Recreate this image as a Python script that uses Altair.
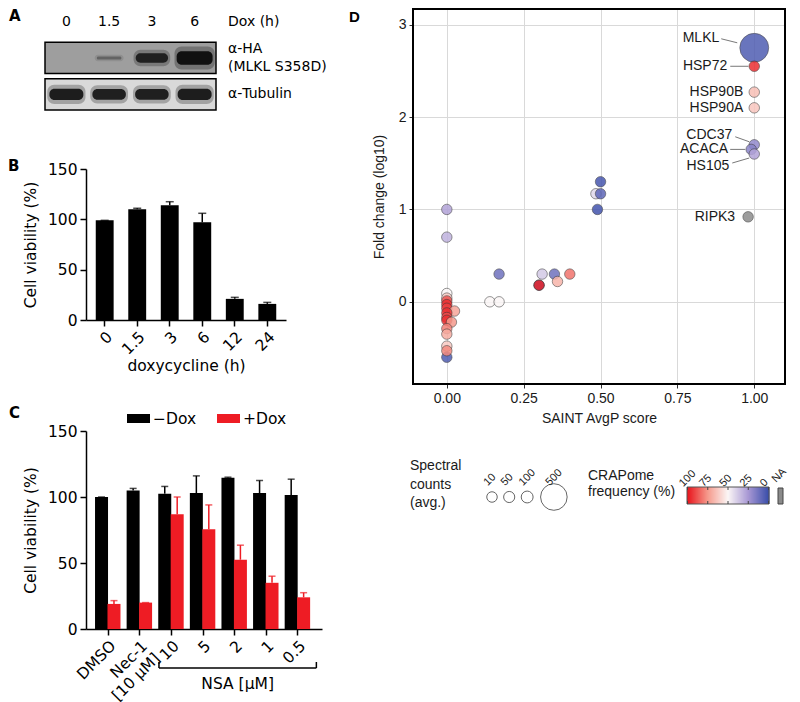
import json
import numpy as np
import pandas as pd
import altair as alt

LEFT_FONT = "DejaVu Sans"
D_FONT = "Liberation Sans"
RED = "#ee1c24"
INK = "#1a1a1a"
LFS = 15.5  # left panels font size

# ---------------- Panel A : western blot ----------------
A_LANES = ["0", "1.5", "3", "6"]
A_ROWS = ["α-HA", "α-Tubulin"]
A_ROW_TEXT = ["α-HA\n(MLKL S358D)", "α-Tubulin"]
A_HA_SIGNAL = [0.0, 0.35, 0.85, 1.0]
A_TUB_SIGNAL = [0.92, 0.9, 0.9, 0.92]
A_TIME_TITLE = "Dox (h)"

# ---------------- Panel B ----------------
B_HOURS = ["0", "1.5", "3", "6", "12", "24"]
B_MEAN = [99, 110, 114, 97, 21, 16]
B_ERR = [0, 1, 3.5, 9, 1.5, 1.5]

# ---------------- Panel C ----------------
C_GROUPS = ["DMSO", "Nec-1\n[10 μM]", "10", "5", "2", "1", "0.5"]
C_CONDS = ["−Dox", "+Dox"]
C_MINUS_MEAN = [100, 105, 102.5, 103, 114.5, 103, 101.5]
C_MINUS_ERR = [0, 1.5, 5.5, 13, 0.5, 9.5, 12]
C_PLUS_MEAN = [19, 20, 87, 75.5, 52.5, 35, 24]
C_PLUS_ERR = [2.5, 0, 13, 18.5, 11, 5, 3.5]
C_NSA = ["10", "0.5"]
C_NSA_TEXT = "NSA [μM]"

# ---------------- Panel D ----------------
D_GENE = [""] * 30 + ["MLKL", "HSP72", "HSP90B", "HSP90A", "CDC37", "ACACA", "HS105", "RIPK3"]
D_SAINT = [0.5, 0.485, 0.5, 0.49, 0.0, 0.0, 0.17, 0.14, 0.17, 0.31, 0.35, 0.40, 0.36, 0.30, 0.30,
           0.0, 0.0, 0.0, 0.0, 0.0, 0.0, 0.025, 0.0, 0.0, 0.0, 0.015, 0.0, 0.0, 0.0, 0.0,
           1.0, 1.0, 1.0, 1.0, 1.0, 0.99, 1.0, 0.98]
D_FC = [1.30, 1.17, 1.17, 1.0, 1.0, 0.70, 0.30, 0.0, 0.0, 0.30, 0.30, 0.30, 0.22, 0.18, 0.18,
        -0.60, 0.09, 0.04, 0.01, -0.03, -0.07, -0.10, -0.12, -0.17, -0.20, -0.22, -0.29, -0.35, -0.48, -0.53,
        2.75, 2.55, 2.27, 2.10, 1.70, 1.65, 1.60, 0.92]
D_CRAP = [3, 42, 8, 2, 28, 32, 12, 50, 50, 38, 12, 82, 68, 2, 97,
          5, 50, 62, 88, 95, 92, 72, 95, 90, 95, 75, 80, 70, 62, 78,
          5, 95, 65, 63, 20, 18, 28, None]
D_COUNTS = [8] * 30 + [590, 14, 10, 10, 10, 10, 10, 10]

# legend content
LEG_COUNTS = [10, 50, 100, 500]
LEG_FREQ = [100, 75, 50, 25, 0]

# annotation layout (text dx, dy, leader offsets)
D_ANNOT = {
    "MLKL": (-35, -10, (-33, -9, -17, -5)),
    "HSP72": (-27, 0, (-24, 0, -6, 0)),
    "HSP90B": (-11, 0, None),
    "HSP90A": (-11, 0, None),
    "CDC37": (-22, -10, (-19, -8, -5, -3)),
    "ACACA": (-23, 0, (-21, 0, -6, 0)),
    "HS105": (-25, 12, (-22, 9, -5, 4)),
    "RIPK3": (-13, 0, None),
}

ONE = pd.DataFrame({"k": [0]})


def letter(ch, x, y, font):
    return alt.Chart(ONE).mark_text(
        text=ch, fontSize=15, fontWeight="bold", font=font, align="left",
        baseline="top", color="black").encode(x=alt.value(x), y=alt.value(y))


AX_LEFT = dict(domainColor="black", domainWidth=1.5, tickColor="black", tickWidth=1.5,
               tickSize=6, labelFontSize=LFS, labelFont=LEFT_FONT, labelColor="black",
               titleFontSize=LFS, titleFont=LEFT_FONT, titleColor="black",
               titleFontWeight="normal", grid=False, labelPadding=3, labelOverlap=False)

# =============== Panel A =================
# plot area starts at the shared left edge of B/C; the blot reaches 41 px further left
A_OVER = 41
A_W = 130
A_TOP = 33
A_BOX_H = 68
A_H = A_TOP + A_BOX_H
lane_px = (A_W + A_OVER) / 4
ax_s = alt.Scale(domain=[-0.5 + A_OVER / lane_px, 3.5])
ay_s = alt.Scale(domain=[0, 2 * A_H / A_BOX_H])
a_rows = pd.DataFrame({"row": A_ROWS, "r": [1, 0], "text": A_ROW_TEXT,
                       "nl": [t.count("\n") for t in A_ROW_TEXT]})
a_bands = pd.DataFrame({
    "row": [A_ROWS[0]] * 4 + [A_ROWS[1]] * 4,
    "r": [1] * 4 + [0] * 4,
    "lane": A_LANES * 2,
    "li": list(range(4)) * 2,
    "signal": A_HA_SIGNAL + A_TUB_SIGNAL,
})
a_lanes = pd.DataFrame({"lane": A_LANES, "li": list(range(4))})

a_bg = alt.Chart(a_rows).transform_calculate(
    x0="-0.5", x1="3.5", y0="datum.r * 1.07", y1="datum.r * 1.07 + 0.92"
).mark_rect(stroke="black", strokeWidth=1.5).encode(
    x=alt.X("x0:Q", scale=ax_s, axis=None), x2="x1:Q",
    y=alt.Y("y0:Q", scale=ay_s, axis=None), y2="y1:Q",
    fill=alt.Fill("row:N", scale=alt.Scale(domain=A_ROWS, range=["#9e9e9e", "#d9d9d9"]), legend=None),
)

band_base = alt.Chart(a_bands).transform_calculate(
    yc="datum.r * 1.07 + 0.46",
    hh="0.04 + 0.16 * pow(datum.signal, 3)",
    hw="0.27 + 0.15 * pow(datum.signal, 2)",
)
a_halo = band_base.transform_calculate(
    x0="datum.li - datum.hw - 0.05", x1="datum.li + datum.hw + 0.05",
    y0="datum.yc - datum.hh * 1.6 - 0.02", y1="datum.yc + datum.hh * 1.6 + 0.02",
    op="datum.signal * 0.3",
).mark_rect(color="#111111", cornerRadius=7).encode(
    x=alt.X("x0:Q", scale=ax_s, axis=None), x2="x1:Q",
    y=alt.Y("y0:Q", scale=ay_s, axis=None), y2="y1:Q",
    opacity=alt.Opacity("op:Q", scale=None),
)
a_core = band_base.transform_calculate(
    x0="datum.li - datum.hw", x1="datum.li + datum.hw",
    y0="datum.yc - datum.hh", y1="datum.yc + datum.hh",
).mark_rect(color="#111111", cornerRadius=5).encode(
    x=alt.X("x0:Q", scale=ax_s, axis=None), x2="x1:Q",
    y=alt.Y("y0:Q", scale=ay_s, axis=None), y2="y1:Q",
    opacity=alt.Opacity("signal:Q", scale=None),
)
a_lane_txt = alt.Chart(a_lanes).mark_text(fontSize=14, baseline="middle", color="black").encode(
    x=alt.X("li:Q", scale=ax_s, axis=None), y=alt.value(A_TOP - 20), text="lane:N")
a_dox = alt.Chart(ONE).mark_text(text=A_TIME_TITLE, fontSize=14, align="left", baseline="middle",
                                 color="black").encode(x=alt.value(A_W + 12), y=alt.value(A_TOP - 20))
a_row_txt = alt.Chart(a_rows).transform_calculate(
    yc="datum.r * 1.07 + 0.46 + datum.nl * 0.27").mark_text(
    align="left", baseline="middle", fontSize=14, lineBreak="\n", lineHeight=18, color="black"
).encode(x=alt.value(A_W + 12), y=alt.Y("yc:Q", scale=ay_s, axis=None), text="text:N")

panel_a = alt.layer(a_bg, a_halo, a_core, a_lane_txt, a_dox, a_row_txt,
                    letter("A", -A_OVER - 36, 0, LEFT_FONT)).properties(width=A_W, height=A_H)

# =============== Panel B =================
B_W, B_H = 200, 151
b_df = pd.DataFrame({"hour": B_HOURS, "mean": B_MEAN, "err": B_ERR})
bx = alt.X("hour:N", sort=B_HOURS, scale=alt.Scale(paddingInner=0.45, paddingOuter=0.3),
           axis=alt.Axis(title="doxycycline (h)", labelAngle=-45, titlePadding=1, **AX_LEFT))
by_s = alt.Scale(domain=[0, 150])
by_ax = alt.Axis(values=[0, 50, 100, 150], title="Cell viability (%)", titlePadding=9, **AX_LEFT)
b_bars = alt.Chart(b_df).mark_bar(color="black").encode(
    x=bx, y=alt.Y("mean:Q", scale=by_s, axis=by_ax))
b_err = alt.Chart(b_df).transform_calculate(hi="datum.mean + datum.err").mark_rule(
    color="black", strokeWidth=1.5).encode(
    x=bx, y=alt.Y("mean:Q", scale=by_s, axis=by_ax), y2="hi:Q")
b_cap = alt.Chart(b_df).transform_calculate(hi="datum.mean + datum.err").mark_tick(
    color="black", thickness=1.5, size=8).encode(
    x=bx, y=alt.Y("hi:Q", scale=by_s, axis=by_ax))
panel_b = alt.layer(b_bars, b_err, b_cap, letter("B", -78, -10, LEFT_FONT)).properties(
    width=B_W, height=B_H)

# =============== Panel C =================
C_W, C_H = 236, 198
C_BAR_W = 13
C_DOM = [-0.53, 6.62]
c_step = C_W / (C_DOM[1] - C_DOM[0])
c_half = (C_BAR_W / 2) / c_step
rows = []
for i, g in enumerate(C_GROUPS):
    rows.append(dict(grp=g, gi=i, cond=C_CONDS[0], side=-1, mean=C_MINUS_MEAN[i], err=C_MINUS_ERR[i]))
    rows.append(dict(grp=g, gi=i, cond=C_CONDS[1], side=1, mean=C_PLUS_MEAN[i], err=C_PLUS_ERR[i]))
c_df = pd.DataFrame(rows)
label_items = [g.split("\n") if "\n" in g else g for g in C_GROUPS]
label_expr = json.dumps(label_items, ensure_ascii=False) + "[datum.value]"
c_xs = alt.Scale(domain=C_DOM)
c_xax = alt.Axis(values=list(range(len(C_GROUPS))), labelExpr=label_expr,
                 labelAngle=-45, title=None, **AX_LEFT)
cx = alt.X("pos:Q", scale=c_xs, axis=c_xax)
cy_ax = alt.Axis(values=[0, 50, 100, 150], title="Cell viability (%)", titlePadding=9, **AX_LEFT)
c_col_s = alt.Scale(domain=C_CONDS, range=["black", RED])
c_base = alt.Chart(c_df).transform_calculate(
    pos=f"datum.gi + datum.side * {c_half}", hi="datum.mean + datum.err")
c_bars = c_base.mark_bar(size=C_BAR_W, orient="vertical").encode(
    x=cx, y=alt.Y("mean:Q", scale=by_s, axis=cy_ax, stack=None),
    color=alt.Color("cond:N", scale=c_col_s, legend=None))
c_err = c_base.mark_rule(strokeWidth=1.5).encode(
    x=cx, y=alt.Y("mean:Q", scale=by_s, axis=cy_ax), y2="hi:Q",
    color=alt.Color("cond:N", scale=c_col_s, legend=None))
c_cap = c_base.mark_tick(thickness=1.5, size=7, orient="horizontal").encode(
    x=cx, y=alt.Y("hi:Q", scale=by_s, axis=cy_ax),
    color=alt.Color("cond:N", scale=c_col_s, legend=None))
# legend keys (drawn as marks, same colour scale)
c_keys = []
for k, cond in enumerate(C_CONDS):
    kd = pd.DataFrame({"cond": [cond]})
    x0 = 41 + 90 * k
    c_keys.append(alt.Chart(kd).mark_rect().encode(
        x=alt.value(x0), x2=alt.value(x0 + 23), y=alt.value(-17), y2=alt.value(-8),
        color=alt.Color("cond:N", scale=c_col_s, legend=None)))
    c_keys.append(alt.Chart(kd).mark_text(align="left", baseline="middle", fontSize=LFS,
                                          color="black").encode(
        x=alt.value(x0 + 26), y=alt.value(-12), text="cond:N"))
i0 = C_GROUPS.index(C_NSA[0]) - 0.38
i1 = C_GROUPS.index(C_NSA[1]) + 0.6
br = pd.DataFrame({"pos": [i0], "b": [i1]})
br_ends = pd.DataFrame({"pos": [i0, i1]})
br_mid = pd.DataFrame({"pos": [(i0 + i1) / 2], "t": [C_NSA_TEXT]})
c_br = alt.Chart(br).mark_rule(color="black", strokeWidth=1.5).encode(
    x=cx, x2="b:Q", y=alt.value(C_H + 39))
c_br_end = alt.Chart(br_ends).mark_rule(color="black", strokeWidth=1.5).encode(
    x=cx, y=alt.value(C_H + 33), y2=alt.value(C_H + 39))
c_br_txt = alt.Chart(br_mid).mark_text(fontSize=LFS, baseline="middle", color="black").encode(
    x=cx, y=alt.value(C_H + 55), text="t:N")
panel_c = alt.layer(c_bars, c_err, c_cap, c_br, c_br_end, c_br_txt, *c_keys,
                    letter("C", -77, -25, LEFT_FONT)).properties(width=C_W, height=C_H)

# =============== Panel D =================
D_W, D_H = 372, 375
d_df = pd.DataFrame({"gene": D_GENE, "saint": D_SAINT, "fc": D_FC,
                     "crap": D_CRAP, "counts": D_COUNTS})
XS = alt.Scale(domain=[-0.11, 1.10])
YS = alt.Scale(domain=[-0.89, 3.17])
SZ = alt.Scale(domain=[10, 100, 500], range=[110, 141, 707])
CS = alt.Scale(domain=[0, 25, 50, 75, 100],
               range=["#3a4eaa", "#a898d4", "#fbf6f6", "#f59a8c", "#e8141c"], interpolate="rgb")
d_common = dict(grid=True, gridColor="#d9d9d9", gridWidth=1, domain=False, tickColor="#333333",
                tickSize=4, labelFont=D_FONT, labelFontSize=14, labelColor=INK, titleFont=D_FONT,
                titleFontSize=14, titleColor=INK, titleFontWeight="normal", labelPadding=3)
XD = alt.X("saint:Q", scale=XS, axis=alt.Axis(values=[0, 0.25, 0.5, 0.75, 1.0], format=".2f",
                                               title="SAINT AvgP score", titlePadding=6, **d_common))
YD = alt.Y("fc:Q", scale=YS, axis=alt.Axis(values=[0, 1, 2, 3], format="d",
                                           title="Fold change (log10)", titlePadding=12, **d_common))
d_base = alt.Chart(d_df)
d_layers = []
for gene, (dx, dy, lead) in D_ANNOT.items():
    if lead:
        d_layers.append(d_base.transform_filter(alt.datum.gene == gene).mark_rule(
            xOffset=lead[0], yOffset=lead[1], x2Offset=lead[2], y2Offset=lead[3],
            color="#555555", strokeWidth=0.8).encode(x=XD, y=YD, x2="saint:Q", y2="fc:Q"))
d_pts = d_base.transform_filter("isValid(datum.crap)").mark_circle(
    opacity=0.85, stroke="#333333", strokeWidth=0.6).encode(
    x=XD, y=YD, color=alt.Color("crap:Q", scale=CS, legend=None),
    size=alt.Size("counts:Q", scale=SZ, legend=None))
d_na = d_base.transform_filter("!isValid(datum.crap)").mark_circle(
    opacity=0.85, stroke="#333333", strokeWidth=0.6, color="#8c8c8c").encode(
    x=XD, y=YD, size=alt.Size("counts:Q", scale=SZ, legend=None))
d_layers += [d_pts, d_na]
for gene, (dx, dy, lead) in D_ANNOT.items():
    d_layers.append(d_base.transform_filter(alt.datum.gene == gene).mark_text(
        align="right", baseline="middle", dx=dx, dy=dy, fontSize=14, font=D_FONT, color=INK
    ).encode(x=XD, y=YD, text="gene:N"))
d_frame = alt.Chart(ONE).mark_rect(fillOpacity=0, stroke="black", strokeWidth=2).encode(
    x=alt.value(0), x2=alt.value(D_W), y=alt.value(0), y2=alt.value(D_H))
d_layers += [d_frame, letter("D", -64, 1, D_FONT)]
d_data = alt.layer(*d_layers)

# ---- legend (pixel layout below the plot) ----
PX = alt.Scale(domain=[0, D_W])
radii = [np.sqrt(np.interp(c, [10, 100, 500], [110, 141, 707]) / np.pi) for c in LEG_COUNTS]
cxs = [79.0]
for k in range(1, len(LEG_COUNTS)):
    cxs.append(cxs[-1] + radii[k - 1] + radii[k] + 5)
leg_c = pd.DataFrame({"counts": LEG_COUNTS, "cx": cxs, "lab": [str(c) for c in LEG_COUNTS]})
G0, G1 = 274, 356
NG = 82
leg_g = pd.DataFrame({"crap": np.linspace(100, 0, NG)})
leg_f = pd.DataFrame({"v": LEG_FREQ, "lab": [str(v) for v in LEG_FREQ]})
gw = (G1 - G0) / NG
fpx = f"{G0} + (100 - datum.v) / 100 * {G1 - G0 - gw} + {gw / 2}"

l_spec = alt.Chart(pd.DataFrame({"t": ["Spectral\ncounts\n(avg.)"]})).mark_text(
    align="left", baseline="middle", lineBreak="\n", lineHeight=18.5, fontSize=14, font=D_FONT,
    color=INK).encode(x=alt.value(-3), y=alt.value(D_H + 82), text="t:N")
l_circ = alt.Chart(leg_c).mark_point(color="#666666", strokeWidth=1, opacity=1).encode(
    x=alt.X("cx:Q", scale=PX, axis=None), y=alt.value(D_H + 113),
    size=alt.Size("counts:Q", scale=SZ, legend=None))
l_clab = alt.Chart(leg_c).mark_text(angle=315, align="left", baseline="alphabetic", fontSize=11,
                                   font=D_FONT, color=INK, dx=-6).encode(
    x=alt.X("cx:Q", scale=PX, axis=None), y=alt.value(D_H + 98), text="lab:N")
l_crap = alt.Chart(pd.DataFrame({"t": ["CRAPome\nfrequency (%)"]})).mark_text(
    align="left", baseline="middle", lineBreak="\n", lineHeight=16, fontSize=14, font=D_FONT,
    color=INK).encode(x=alt.value(175), y=alt.value(D_H + 92), text="t:N")
l_grad = alt.Chart(leg_g).transform_calculate(
    px=f"{G0} + (100 - datum.crap) / 100 * {G1 - G0 - gw}",
).transform_calculate(px2=f"datum.px + {gw + 0.5}").mark_rect().encode(
    x=alt.X("px:Q", scale=PX, axis=None), x2="px2:Q",
    y=alt.value(D_H + 103), y2=alt.value(D_H + 120),
    color=alt.Color("crap:Q", scale=CS, legend=None))
l_gbox = alt.Chart(ONE).mark_rect(fillOpacity=0, stroke="#555555", strokeWidth=1).encode(
    x=alt.value(G0), x2=alt.value(G1), y=alt.value(D_H + 103), y2=alt.value(D_H + 120))
l_tick_top = alt.Chart(leg_f).transform_calculate(px=fpx).mark_rule(color="#444444").encode(
    x=alt.X("px:Q", scale=PX, axis=None), y=alt.value(D_H + 103), y2=alt.value(D_H + 106))
l_tick_bot = alt.Chart(leg_f).transform_calculate(px=fpx).mark_rule(color="#444444").encode(
    x=alt.X("px:Q", scale=PX, axis=None), y=alt.value(D_H + 117), y2=alt.value(D_H + 120))
l_flab = alt.Chart(leg_f).transform_calculate(px=fpx).mark_text(
    angle=315, align="left", baseline="alphabetic", fontSize=11, font=D_FONT, color=INK, dx=-6
).encode(x=alt.X("px:Q", scale=PX, axis=None), y=alt.value(D_H + 99), text="lab:N")
l_na = alt.Chart(ONE).mark_rect(color="#8a8a8a", stroke="#444444", strokeWidth=1).encode(
    x=alt.value(365), x2=alt.value(370), y=alt.value(D_H + 104), y2=alt.value(D_H + 120))
l_nalab = alt.Chart(ONE).mark_text(text="NA", angle=315, align="left", baseline="alphabetic",
                                   fontSize=11, font=D_FONT, color=INK).encode(
    x=alt.value(363), y=alt.value(D_H + 99))
d_leg = alt.layer(l_spec, l_circ, l_clab, l_crap, l_grad, l_gbox, l_tick_top, l_tick_bot,
                  l_flab, l_na, l_nalab)

panel_d = alt.layer(d_data, d_leg).resolve_scale(x="independent", y="independent").properties(
    width=D_W, height=D_H)

IND = dict(color="independent", fill="independent", size="independent", opacity="independent")
top = alt.vconcat(panel_a, panel_b, spacing=48).resolve_scale(**IND)
left = alt.vconcat(top, panel_c, spacing=32).resolve_scale(**IND)
chart = alt.hconcat(left, panel_d, spacing=22, padding=0).resolve_scale(**IND).configure(
    font=LEFT_FONT).configure_view(strokeWidth=0)

chart.save("out.html", embed_options={"renderer": "svg", "actions": False})
